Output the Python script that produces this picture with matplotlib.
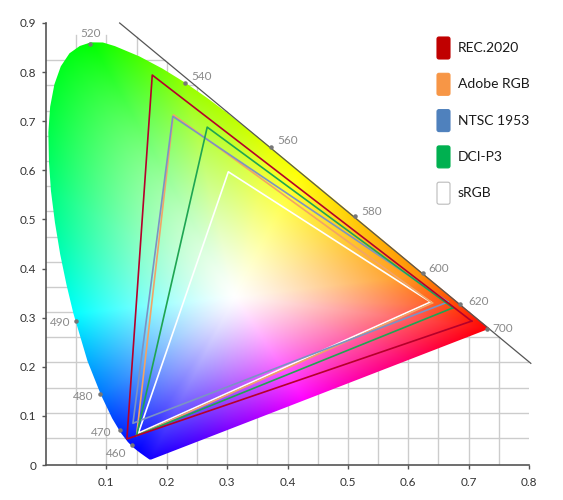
import numpy as np
import matplotlib.pyplot as plt
from matplotlib.colors import hsv_to_rgb
from matplotlib.patches import Polygon, FancyBboxPatch

plt.rcParams['font.family'] = ['Lato', 'DejaVu Sans']

# spectral locus as it is drawn in the picture (380 -> 700 nm)
locus_nm = [380, 420, 440, 450, 455, 460, 465, 470, 475, 480, 485, 490, 492.5,
            495, 497.5, 500, 502.5, 505, 507.5, 510, 512.5, 515, 517.5, 520,
            522.5, 525, 530, 535, 540, 545, 550, 555, 560, 570, 580, 590, 600,
            610, 620, 630, 640, 650, 660, 680, 700]
locus_x = [0.1741, 0.1714, 0.1644, 0.1566, 0.1510, 0.1440, 0.1355, 0.1241,
           0.1096, 0.0913, 0.0687, 0.0454, 0.0340, 0.0235, 0.0148, 0.0082,
           0.0049, 0.0039, 0.0069, 0.0139, 0.0245, 0.0389, 0.0560, 0.0743,
           0.0943, 0.1142, 0.1547, 0.1929, 0.2296, 0.2658, 0.3016, 0.3373,
           0.3731, 0.4441, 0.5125, 0.5752, 0.6270, 0.6658, 0.6915, 0.7079,
           0.7190, 0.7260, 0.7300, 0.7334, 0.7347]
locus_y = [0.0111, 0.0112, 0.0172, 0.0241, 0.0293, 0.0364, 0.0469, 0.0652,
           0.0950, 0.1420, 0.2117, 0.3084, 0.3668, 0.4290, 0.4939, 0.5579,
           0.6179, 0.6772, 0.7297, 0.7750, 0.8117, 0.8383, 0.8532, 0.8606,
           0.8603, 0.8529, 0.8320, 0.8071, 0.7792, 0.7484, 0.7156, 0.6814,
           0.6461, 0.5746, 0.5048, 0.4408, 0.3878, 0.3484, 0.3220, 0.3053,
           0.2939, 0.2869, 0.2828, 0.2793, 0.2779]

# wavelength markers
mark_nm = [460, 470, 480, 490, 520, 540, 560, 580, 600, 620, 700]
mark_x = [0.142, 0.1225, 0.089, 0.0497, 0.073, 0.230, 0.372, 0.512, 0.624, 0.685, 0.730]
mark_y = [0.041, 0.071, 0.145, 0.293, 0.857, 0.778, 0.647, 0.507, 0.391, 0.328, 0.277]

# colour spaces: (R, G, B) primaries
gamut_names = ['REC.2020', 'Adobe RGB', 'NTSC 1953', 'DCI-P3', 'sRGB']
gamut_x = [[0.705, 0.176, 0.134],
           [0.640, 0.211, 0.150],
           [0.666, 0.210, 0.144],
           [0.674, 0.267, 0.150],
           [0.637, 0.302, 0.153]]
gamut_y = [[0.293, 0.794, 0.053],
           [0.330, 0.713, 0.060],
           [0.332, 0.710, 0.085],
           [0.320, 0.688, 0.060],
           [0.332, 0.597, 0.065]]

line_colors = ['#b5002a', '#f2a466', '#7b93c4', '#1ea552', '#ffffff']
swatch_colors = ['#c00000', '#f79646', '#4f81bd', '#00b050', '#ffffff']

fig = plt.figure(figsize=(5.63, 5.0), dpi=100)
ax = fig.add_axes([46 / 563, 35 / 500, 483 / 563, 442 / 500])
ax.set_xlim(0, 0.8)
ax.set_ylim(0, 0.9)

# diagonal guide line
dx0, dy0, dx1, dy1 = 0.122, 0.9, 0.803, 0.207
slope = (dy1 - dy0) / (dx1 - dx0)

# grid (only below the diagonal)
for gx in np.arange(0.05, 0.76, 0.05):
    top = min(0.875, dy0 + (gx - dx0) * slope)
    ax.plot([gx, gx], [0, top], color='#cccccc', lw=1, zorder=1)
for k in range(1, 17):
    gy = 1.025 * 0.05 * k + 0.004
    right = min(0.8, dx0 + (gy - dy0) / slope)
    ax.plot([0, right], [gy, gy], color='#cccccc', lw=1, zorder=1)

# fill colours: hue by direction from the white point, fading to white
n = 500
px, py = np.meshgrid(np.linspace(0, 0.8, n), np.linspace(0, 0.93, n))
wx, wy = 0.3127, 0.342
bx = np.array(locus_x + [locus_x[0]])
by = np.array(locus_y + [locus_y[0]])
seg = np.linspace(0, 1, 30, endpoint=False)
edge_x = np.concatenate([bx[i] + seg * (bx[i + 1] - bx[i]) for i in range(len(bx) - 1)])
edge_y = np.concatenate([by[i] + seg * (by[i + 1] - by[i]) for i in range(len(by) - 1)])
edge_a = np.arctan2(edge_y - wy, edge_x - wx)
edge_r = np.hypot(edge_x - wx, edge_y - wy)
o = np.argsort(edge_a)
theta = np.arctan2(py - wy, px - wx)
rb = np.interp(theta, edge_a[o], edge_r[o], period=2 * np.pi)
t = np.clip(np.hypot(px - wx, py - wy) / rb, 0, 1)

# direction (deg) -> hue (deg)
dir_deg = [-112.8, -92.7, -55.9, -24.0, -8.6, -3.0, 8.3, 39.2, 78.8, 100.8,
           114.6, 144.7, 187.2, 222.1, 235.7, 241.1, 247.2]
hue_deg = [245, 270, 305, 335, 360, 375, 393, 408, 425, 445,
           480, 510, 540, 572, 590, 598, 605]
ang = (np.degrees(theta) + 112.8) % 360 - 112.8
h = (np.interp(ang, dir_deg, hue_deg) % 360) / 360
hsv = np.dstack([h, t ** 1.2, np.ones_like(t)])
rgb = hsv_to_rgb(hsv)

im = ax.imshow(rgb, origin='lower', extent=(0, 0.8, 0, 0.93),
               aspect='auto', interpolation='bilinear', zorder=2)
locus = Polygon(np.column_stack([locus_x, locus_y]), closed=True,
                facecolor='none', edgecolor='none', transform=ax.transData)
ax.add_patch(locus)
im.set_clip_path(locus)

ax.plot([dx0, dx1], [dy0, dy1], color='#555555', lw=0.9, zorder=3, clip_on=False)

# triangles
for i in [4, 1, 2, 3, 0]:
    xs = gamut_x[i] + [gamut_x[i][0]]
    ys = gamut_y[i] + [gamut_y[i][0]]
    ax.plot(xs, ys, color=line_colors[i], lw=1.2, zorder=4)

# wavelength labels
label_off = [(-4, -6, 'right'), (-6, -2, 'right'), (-4.5, -2, 'right'),
             (-4, -1, 'right'), (0, 8, 'center'), (4.5, 4.5, 'left'),
             (4.5, 5, 'left'), (4.5, 3.5, 'left'), (4, 3, 'left'),
             (6, 1.5, 'left'), (4, 0.5, 'left')]
ax.scatter(mark_x, mark_y, s=5, color='#777777', zorder=5, clip_on=False)
for nm, mx, my, (ox, oy, ha) in zip(mark_nm, mark_x, mark_y, label_off):
    ax.annotate(str(nm), (mx, my), xytext=(ox, oy), textcoords='offset points',
                ha=ha, va='center', fontsize=8.5, color='#8a8a8a', zorder=6)

# axes styling
for s in ['top', 'right']:
    ax.spines[s].set_visible(False)
for s in ['left', 'bottom']:
    ax.spines[s].set_color('#555555')
    ax.spines[s].set_linewidth(1.2)
    ax.spines[s].set_zorder(6)
ax.set_yticks(np.arange(0, 0.91, 0.1))
ax.set_yticklabels(['0'] + ['%.1f' % v for v in np.arange(0.1, 0.91, 0.1)])
ax.set_xticks(np.arange(0.1, 0.81, 0.1))
ax.set_xticklabels(['%.1f' % v for v in np.arange(0.1, 0.81, 0.1)])
ax.tick_params(axis='both', colors='#555555', labelcolor='#333333',
               labelsize=8.5, length=3, width=1)
ax.tick_params(axis='y', pad=4)
ax.tick_params(axis='x', pad=6)
ax.set_facecolor('none')

# legend
inch = fig.dpi_scale_trans
for i, name in enumerate(gamut_names):
    cy_px = 48 + i * 36.3
    edge = '#bbbbbb' if swatch_colors[i] == '#ffffff' else swatch_colors[i]
    box = FancyBboxPatch((437 / 100, (500 - cy_px - 11) / 100), 0.13, 0.22,
                         boxstyle='round,pad=0,rounding_size=0.02',
                         facecolor=swatch_colors[i], edgecolor=edge, lw=0.8,
                         transform=inch)
    fig.patches.append(box)
    fig.text(458 / 100, (500 - cy_px) / 100, name, transform=inch,
             ha='left', va='center', fontsize=10, color='#1a1a1a')

fig.savefig('out.png', dpi=100)
